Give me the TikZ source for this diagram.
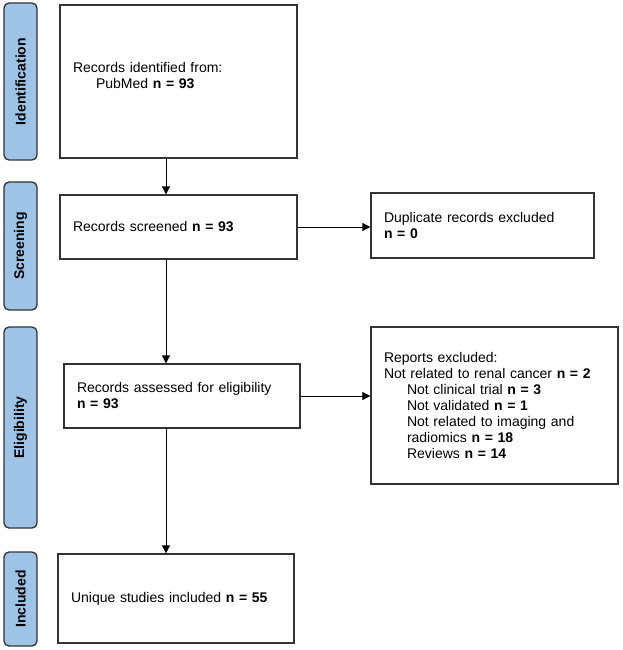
\documentclass[tikz,border=0pt]{standalone}
\usepackage{fontspec}
\setmainfont{Liberation Sans}
\usetikzlibrary{arrows.meta,positioning}
\definecolor{phase}{RGB}{157,195,230}

\begin{document}
\begin{tikzpicture}[x=1pt,y=-1pt]
\tikzstyle{box}=[rectangle,draw=black!80,line width=1.3pt,align=left,inner xsep=13pt,inner ysep=0pt,font=\fontsize{14}{16}\selectfont]
\tikzstyle{stage}=[rectangle,rounded corners=5pt,draw=black!80,fill=phase,line width=1.3pt,rotate=90,minimum height=33pt,inner sep=0pt,font=\fontsize{14}{16}\selectfont\bfseries]
\tikzstyle{arr}=[-{Triangle[length=8pt,width=8pt]},line width=0.8pt]
\useasboundingbox (0,0) rectangle (622,650);

\node [stage,minimum width=157pt] (sid) at (20.5,81.5) {Identification};
\node [stage,minimum width=128pt] (sscr) at (20.5,246) {Screening};
\node [stage,minimum width=201pt] (selig) at (20.5,427.5) {Eligibility};
\node [stage,minimum width=94pt] (sinc) at (20.5,599) {Included};

\node [box,text width=211pt,minimum height=153pt] (id) at (178.5,81.5) {Records identified from:\\\hspace*{23pt}PubMed \textbf{n = 93}\\[-4pt]\mbox{}};
\node [box,text width=211pt,minimum height=64pt] (scr) at (178.5,227) {Records screened \textbf{n = 93}};
\node [box,text width=210pt,minimum height=64pt] (elig) at (182,396) {Records assessed for eligibility\\\textbf{n = 93}};
\node [box,text width=210pt,minimum height=89pt] (inc) at (176,598.5) {Unique studies included \textbf{n = 55}};
\node [box,text width=197pt,minimum height=65pt] (dup) at (482.5,225.5) {Duplicate records excluded\\\textbf{n = 0}};
\node [box,text width=221pt,minimum height=157pt] (rep) at (494.5,405.5) {Reports excluded:\\
Not related to renal cancer \textbf{n = 2}\\
\hspace*{23pt}Not clinical trial \textbf{n = 3}\\
\hspace*{23pt}Not validated \textbf{n = 1}\\
\hspace*{23pt}Not related to imaging and\\
\hspace*{23pt}radiomics \textbf{n = 18}\\
\hspace*{23pt}Reviews \textbf{n = 14}};

\coordinate (ax) at (166,0);
\draw [arr] (id.south -| ax) -- (scr.north -| ax);
\draw [arr] (scr.south -| ax) -- (elig.north -| ax);
\draw [arr] (elig.south -| ax) -- (inc.north -| ax);
\draw [arr] (scr.east) -- (scr.east -| dup.west);
\draw [arr] (elig.east) -- (elig.east -| rep.west);
\end{tikzpicture}
\end{document}
